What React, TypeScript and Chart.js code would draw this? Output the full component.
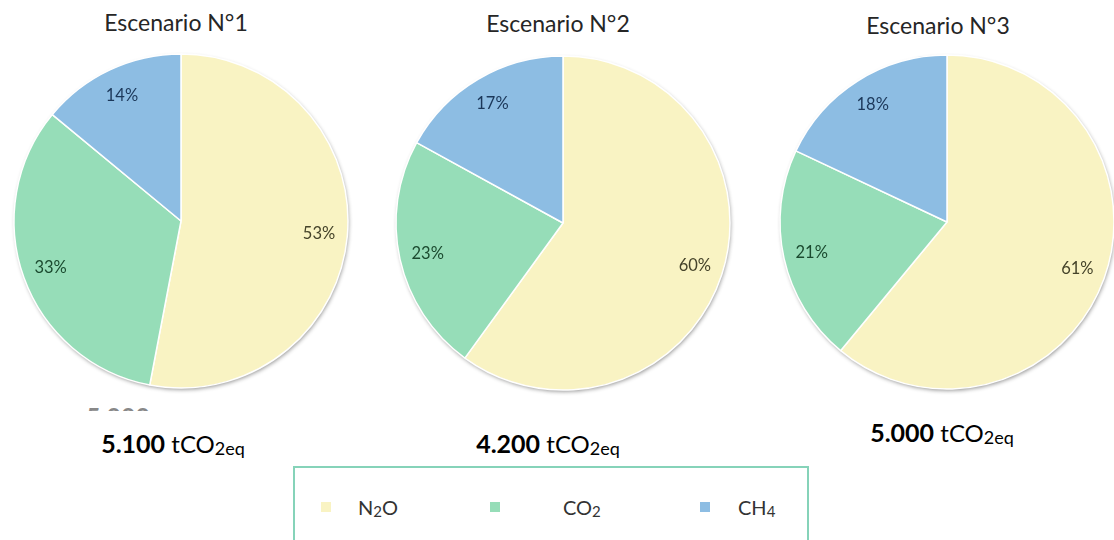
import React, { useEffect, useRef } from "react";
import { Chart, registerables } from "chart.js";

Chart.register(...registerables);

// Gas categories, in clockwise order starting from 12 o'clock
const gases = ["N₂O", "CO₂", "CH₄"];

// Share of each gas per scenario (%)
const scenario1 = [53, 33, 14];
const scenario2 = [60, 23, 17];
const scenario3 = [61, 21, 18];

const scenarioTitles = ["Escenario N°1", "Escenario N°2", "Escenario N°3"];
const scenarioTotals = ["5.100", "4.200", "5.000"];

const sliceColors = ["#F9F3C3", "#96DDB8", "#8DBDE3"];
const labelColors = ["#45432A", "#1B4A2F", "#1B3759"];

const FONT = "Lato, 'Open Sans', sans-serif";

type PieProps = {
  values: number[];
  cx: number;
  cy: number;
  r: number;
};

// Soft drop shadow under the whole pie
const shadowPlugin = {
  id: "pieShadow",
  beforeDatasetsDraw(chart: any) {
    const arc = chart.getDatasetMeta(0).data[0] as any;
    if (!arc) return;
    const { x, y, outerRadius } = arc.getProps(["x", "y", "outerRadius"], true);
    const ctx = chart.ctx;
    ctx.save();
    ctx.shadowColor = "rgba(0,0,0,0.45)";
    ctx.shadowBlur = 4;
    ctx.shadowOffsetX = 1;
    ctx.shadowOffsetY = 2;
    ctx.beginPath();
    ctx.arc(x, y, outerRadius - 0.5, 0, Math.PI * 2);
    ctx.fillStyle = "#e4e4e4";
    ctx.fill();
    ctx.restore();
  },
};

// Percentage label inside every slice
const percentPlugin = {
  id: "percentLabels",
  afterDatasetsDraw(chart: any) {
    const meta = chart.getDatasetMeta(0);
    const data = chart.data.datasets[0].data as number[];
    const ctx = chart.ctx;
    ctx.save();
    ctx.font = `16.5px ${FONT}`;
    ctx.textAlign = "center";
    ctx.textBaseline = "middle";
    meta.data.forEach((el: any, i: number) => {
      const { x, y, startAngle, endAngle, outerRadius } = el.getProps(
        ["x", "y", "startAngle", "endAngle", "outerRadius"],
        true
      );
      const mid = (startAngle + endAngle) / 2;
      const d = outerRadius * 0.83;
      ctx.fillStyle = labelColors[i];
      ctx.fillText(`${data[i]}%`, x + Math.cos(mid) * d, y + Math.sin(mid) * d);
    });
    ctx.restore();
  },
};

function Pie({ values, cx, cy, r }: PieProps) {
  const ref = useRef<HTMLCanvasElement>(null);
  const size = 2 * (r + 8);

  useEffect(() => {
    if (!ref.current) return;
    const chart = new Chart(ref.current, {
      type: "pie",
      data: {
        labels: gases,
        datasets: [
          {
            data: values,
            backgroundColor: sliceColors,
            borderColor: "#ffffff",
            borderWidth: 1.5,
          },
        ],
      },
      options: {
        responsive: false,
        maintainAspectRatio: false,
        animation: false,
        radius: r,
        layout: { padding: 0 },
        plugins: {
          legend: { display: false },
          tooltip: { enabled: false },
          title: { display: false },
        },
      } as any,
      plugins: [shadowPlugin, percentPlugin],
    });
    return () => chart.destroy();
  }, [values, r]);

  return (
    <canvas
      ref={ref}
      width={size}
      height={size}
      style={{
        position: "absolute",
        left: cx - size / 2,
        top: cy - size / 2,
        width: size,
        height: size,
      }}
    />
  );
}

function Title({ text, cx, cy }: { text: string; cx: number; cy: number }) {
  return (
    <div
      style={{
        position: "absolute",
        left: cx - 150,
        width: 300,
        top: cy - 15,
        height: 30,
        lineHeight: "30px",
        textAlign: "center",
        fontFamily: FONT,
        fontSize: 23,
        color: "#262626",
        whiteSpace: "nowrap",
      }}
    >
      {text}
    </div>
  );
}

function Total({ value, cx, cy }: { value: string; cx: number; cy: number }) {
  return (
    <div
      style={{
        position: "absolute",
        left: cx - 150,
        width: 300,
        top: cy - 16,
        height: 32,
        lineHeight: "32px",
        textAlign: "center",
        fontFamily: FONT,
        color: "#000",
        whiteSpace: "nowrap",
      }}
    >
      <span style={{ fontWeight: 700, fontSize: 25 }}>{value}</span>
      <span style={{ fontSize: 24 }}>
        {" "}tCO
        <span style={{ fontSize: 18, position: "relative", top: 2 }}>2eq</span>
      </span>
    </div>
  );
}

function LegendItem({
  color,
  base,
  sub,
  after,
  sx,
  tx,
}: {
  color: string;
  base: string;
  sub: string;
  after: string;
  sx: number;
  tx: number;
}) {
  return (
    <>
      <div
        style={{
          position: "absolute",
          left: sx,
          top: 502,
          width: 10,
          height: 10,
          background: color,
        }}
      />
      <div
        style={{
          position: "absolute",
          left: tx,
          top: 494,
          height: 26,
          lineHeight: "26px",
          fontFamily: FONT,
          fontSize: 20,
          color: "#333333",
          whiteSpace: "nowrap",
        }}
      >
        {base}
        <span style={{ fontSize: 15, position: "relative", top: 2 }}>{sub}</span>
        {after}
      </div>
    </>
  );
}

export default function App() {
  const centers = [
    { cx: 181, cy: 221 },
    { cx: 563, cy: 223 },
    { cx: 947, cy: 222 },
  ];
  const allValues = [scenario1, scenario2, scenario3];
  const totalPos = [
    { cx: 173, cy: 443 },
    { cx: 548, cy: 443 },
    { cx: 942, cy: 432 },
  ];
  const titlePos = [
    { cx: 176, cy: 22 },
    { cx: 558, cy: 23 },
    { cx: 938, cy: 25 },
  ];

  return (
    <div
      style={{
        position: "absolute",
        left: 0,
        top: 0,
        width: 1114,
        height: 540,
        overflow: "hidden",
        background: "#ffffff",
      }}
    >
      {allValues.map((v, i) => (
        <Pie key={i} values={v} cx={centers[i].cx} cy={centers[i].cy} r={167} />
      ))}
      {scenarioTitles.map((t, i) => (
        <Title key={t} text={t} cx={titlePos[i].cx} cy={titlePos[i].cy} />
      ))}

      {/* clipped leftover of an older total under the first pie */}
      <div
        style={{
          position: "absolute",
          left: 86,
          top: 408,
          width: 90,
          height: 3,
          overflow: "hidden",
        }}
      >
        <div
          style={{
            fontFamily: FONT,
            fontWeight: 700,
            fontSize: 25,
            lineHeight: "25px",
            color: "#888",
            marginTop: -4,
          }}
        >
          5.000
        </div>
      </div>

      {scenarioTotals.map((t, i) => (
        <Total key={i} value={t} cx={totalPos[i].cx} cy={totalPos[i].cy} />
      ))}

      <div
        style={{
          position: "absolute",
          left: 293,
          top: 466,
          width: 512,
          height: 90,
          border: "2px solid #86D3B9",
          background: "#ffffff",
        }}
      />
      <LegendItem color={sliceColors[0]} base="N" sub="2" after="O" sx={321} tx={358} />
      <LegendItem color={sliceColors[1]} base="CO" sub="2" after="" sx={490} tx={563} />
      <LegendItem color={sliceColors[2]} base="CH" sub="4" after="" sx={700} tx={738} />
    </div>
  );
}
